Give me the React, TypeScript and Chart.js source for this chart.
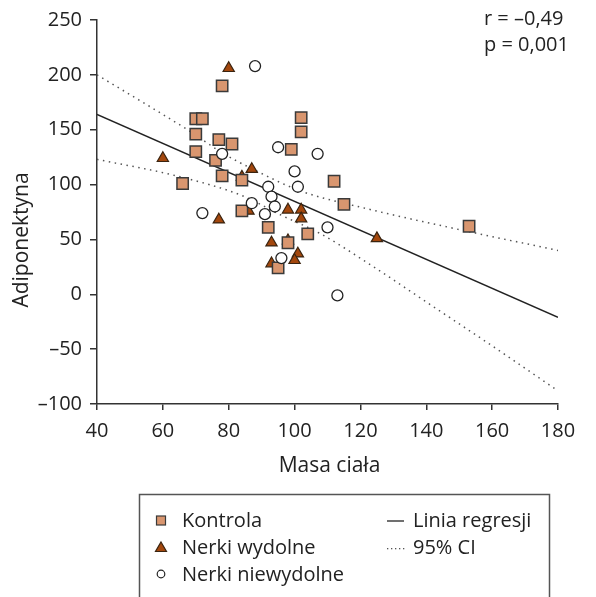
import React, { useEffect, useRef } from "react";
import { Chart, registerables } from "chart.js";

Chart.register(...registerables);

// Kontrola (squares)
const kontrolaX = [78, 70, 72, 70, 77, 81, 70, 76, 78, 84, 66, 102, 102, 99, 84, 92, 115, 104, 98, 95, 112, 153];
const kontrolaY = [190, 160, 160, 146, 141, 137, 130, 122, 108, 104, 101, 161, 148, 132, 76, 61, 82, 55, 47, 24, 103, 62];

// Nerki wydolne (triangles)
const wydolneX = [80, 60, 87, 84, 77, 86, 98, 102, 102, 93, 98, 101, 100, 93, 125];
const wydolneY = [206, 124, 114, 107, 68, 76, 77, 77, 69, 47, 49, 37, 31, 28, 51];

// Nerki niewydolne (circles)
const niewydolneX = [88, 78, 95, 107, 100, 92, 101, 93, 94, 87, 91, 72, 110, 96, 113];
const niewydolneY = [208, 128, 134, 128, 112, 98, 98, 89, 80, 83, 73, 74, 61, 33, -1];

// Regression line
const regX = [40, 180];
const regY = [164, -21];

// 95% CI bands
const ciUpperX = [40, 55, 68, 78, 88, 102, 122, 150, 180];
const ciUpperY = [200, 173, 149, 129, 113, 94, 78, 59, 40];
const ciLowerX = [40, 64, 84, 96, 108, 124, 142, 160, 180];
const ciLowerY = [123, 108, 90, 72, 55, 25, -11, -47, -88];

const xTicks = [40, 60, 80, 100, 120, 140, 160, 180];
const yTicks = [-100, -50, 0, 50, 100, 150, 200, 250];

const legendLabels = ["Kontrola", "Nerki wydolne", "Nerki niewydolne", "Linia regresji", "95% CI"];
const statLines = ["r = \u20130,49", "p = 0,001"];
const xTitle = "Masa cia\u0142a";
const yTitle = "Adiponektyna";

const FONT = "'Open Sans', 'Noto Sans', sans-serif";
const TEXT = "#222";
const SQ_FILL = "#d9966f";
const SQ_BORDER = "#3a3a3a";
const TRI_FILL = "#a3470d";
const TRI_BORDER = "#3a2410";
const AXIS = "#333";

const zip = (xs: number[], ys: number[]) => xs.map((x, i) => ({ x, y: ys[i] }));

const overlayPlugin = {
  id: "overlay",
  afterDraw(chart: any) {
    const ctx = chart.ctx as CanvasRenderingContext2D;
    const area = chart.chartArea;
    ctx.save();
    ctx.fillStyle = TEXT;
    ctx.textBaseline = "middle";

    // axis titles
    ctx.font = `21px ${FONT}`;
    ctx.textAlign = "center";
    ctx.fillText(xTitle, (area.left + area.right) / 2 + 2, 466);
    ctx.save();
    ctx.translate(22, 240);
    ctx.rotate(-Math.PI / 2);
    ctx.fillText(yTitle, 0, 0);
    ctx.restore();

    // stats
    ctx.font = `20px ${FONT}`;
    ctx.textAlign = "left";
    ctx.fillText(statLines[0], 484, 19);
    ctx.fillText(statLines[1], 484, 45);

    // legend box
    ctx.strokeStyle = "#555";
    ctx.lineWidth = 1.5;
    ctx.strokeRect(139.5, 494.5, 410, 130);

    const rows = [521, 548, 575];
    const mx = 161;
    // square
    ctx.fillStyle = SQ_FILL;
    ctx.strokeStyle = SQ_BORDER;
    ctx.lineWidth = 1.2;
    ctx.fillRect(mx - 4.5, rows[0] - 5, 9, 9);
    ctx.strokeRect(mx - 4.5, rows[0] - 5, 9, 9);
    // triangle
    ctx.beginPath();
    ctx.moveTo(mx, rows[1] - 6);
    ctx.lineTo(mx + 5.5, rows[1] + 3.5);
    ctx.lineTo(mx - 5.5, rows[1] + 3.5);
    ctx.closePath();
    ctx.fillStyle = TRI_FILL;
    ctx.fill();
    ctx.strokeStyle = TRI_BORDER;
    ctx.stroke();
    // circle
    ctx.beginPath();
    ctx.arc(mx, rows[2] - 1, 3.8, 0, Math.PI * 2);
    ctx.fillStyle = "#fff";
    ctx.fill();
    ctx.strokeStyle = "#222";
    ctx.stroke();

    // lines
    ctx.strokeStyle = "#222";
    ctx.lineWidth = 1.3;
    ctx.beginPath();
    ctx.moveTo(387, rows[0]);
    ctx.lineTo(404, rows[0]);
    ctx.stroke();
    ctx.fillStyle = "#555";
    for (let i = 0; i < 5; i++) {
      ctx.fillRect(387 + i * 4, rows[1], 1.3, 1.3);
    }

    ctx.fillStyle = TEXT;
    ctx.font = `20px ${FONT}`;
    ctx.textAlign = "left";
    ctx.fillText(legendLabels[0], 182, rows[0]);
    ctx.fillText(legendLabels[1], 182, rows[1]);
    ctx.fillText(legendLabels[2], 182, rows[2]);
    ctx.fillText(legendLabels[3], 413, rows[0]);
    ctx.fillText(legendLabels[4], 413, rows[1]);
    ctx.restore();
  },
};

export default function App() {
  const ref = useRef<HTMLCanvasElement | null>(null);

  useEffect(() => {
    if (!ref.current) return;
    Chart.defaults.font.family = FONT;
    const chart = new Chart(ref.current, {
      type: "scatter",
      data: {
        datasets: [
          {
            label: legendLabels[2],
            data: zip(niewydolneX, niewydolneY),
            pointStyle: "circle",
            pointRadius: 5.5,
            pointBackgroundColor: "#fff",
            pointBorderColor: "#222",
            pointBorderWidth: 1.3,
            order: 1,
          },
          {
            label: legendLabels[0],
            data: zip(kontrolaX, kontrolaY),
            pointStyle: "rect",
            pointRadius: 8,
            pointBackgroundColor: SQ_FILL,
            pointBorderColor: SQ_BORDER,
            pointBorderWidth: 1.5,
            order: 2,
          },
          {
            label: legendLabels[1],
            data: zip(wydolneX, wydolneY),
            pointStyle: "triangle",
            pointRadius: 6.5,
            pointBackgroundColor: TRI_FILL,
            pointBorderColor: TRI_BORDER,
            pointBorderWidth: 1.2,
            order: 3,
          },
          {
            label: legendLabels[3],
            data: zip(regX, regY),
            showLine: true,
            pointRadius: 0,
            borderColor: "#222",
            borderWidth: 1.5,
            order: 10,
          },
          {
            label: legendLabels[4],
            data: zip(ciUpperX, ciUpperY),
            showLine: true,
            pointRadius: 0,
            borderColor: "#555",
            borderWidth: 1.5,
            borderDash: [1.5, 4.5],
            cubicInterpolationMode: "monotone",
            order: 11,
          },
          {
            label: legendLabels[4] + " lower",
            data: zip(ciLowerX, ciLowerY),
            showLine: true,
            pointRadius: 0,
            borderColor: "#555",
            borderWidth: 1.5,
            borderDash: [1.5, 4.5],
            cubicInterpolationMode: "monotone",
            order: 11,
          },
        ],
      },
      options: {
        animation: false,
        responsive: false,
        layout: { padding: { left: 8, right: 38, top: 18, bottom: 133 } },
        plugins: { legend: { display: false }, tooltip: { enabled: false } },
        scales: {
          x: {
            type: "linear",
            min: 40,
            max: 180,
            afterFit: (s: any) => {
              s.height = 60;
            },
            afterBuildTicks: (s: any) => {
              s.ticks = xTicks.map((v) => ({ value: v }));
            },
            ticks: { color: TEXT, font: { size: 20, family: FONT }, padding: 9 },
            grid: { drawOnChartArea: false, drawTicks: true, tickLength: 6, color: AXIS, lineWidth: 1.5 },
            border: { display: true, color: AXIS, width: 1.5 },
          },
          y: {
            type: "linear",
            min: -100,
            max: 250,
            afterFit: (s: any) => {
              s.width = 89;
            },
            afterBuildTicks: (s: any) => {
              s.ticks = yTicks.map((v) => ({ value: v }));
            },
            ticks: {
              color: TEXT,
              font: { size: 20, family: FONT },
              padding: 8,
              callback: (v: any) => (Number(v) < 0 ? "\u2013" + Math.abs(Number(v)) : String(v)),
            },
            grid: { drawOnChartArea: false, drawTicks: true, tickLength: 7, color: AXIS, lineWidth: 1.5 },
            border: { display: true, color: AXIS, width: 1.5 },
          },
        },
      },
      plugins: [overlayPlugin],
    } as any);
    return () => chart.destroy();
  }, []);

  return (
    <div style={{ position: "absolute", left: 0, top: 0, width: 596, height: 597, background: "#fff" }}>
      <canvas ref={ref} width={596} height={597} style={{ display: "block" }} />
    </div>
  );
}
